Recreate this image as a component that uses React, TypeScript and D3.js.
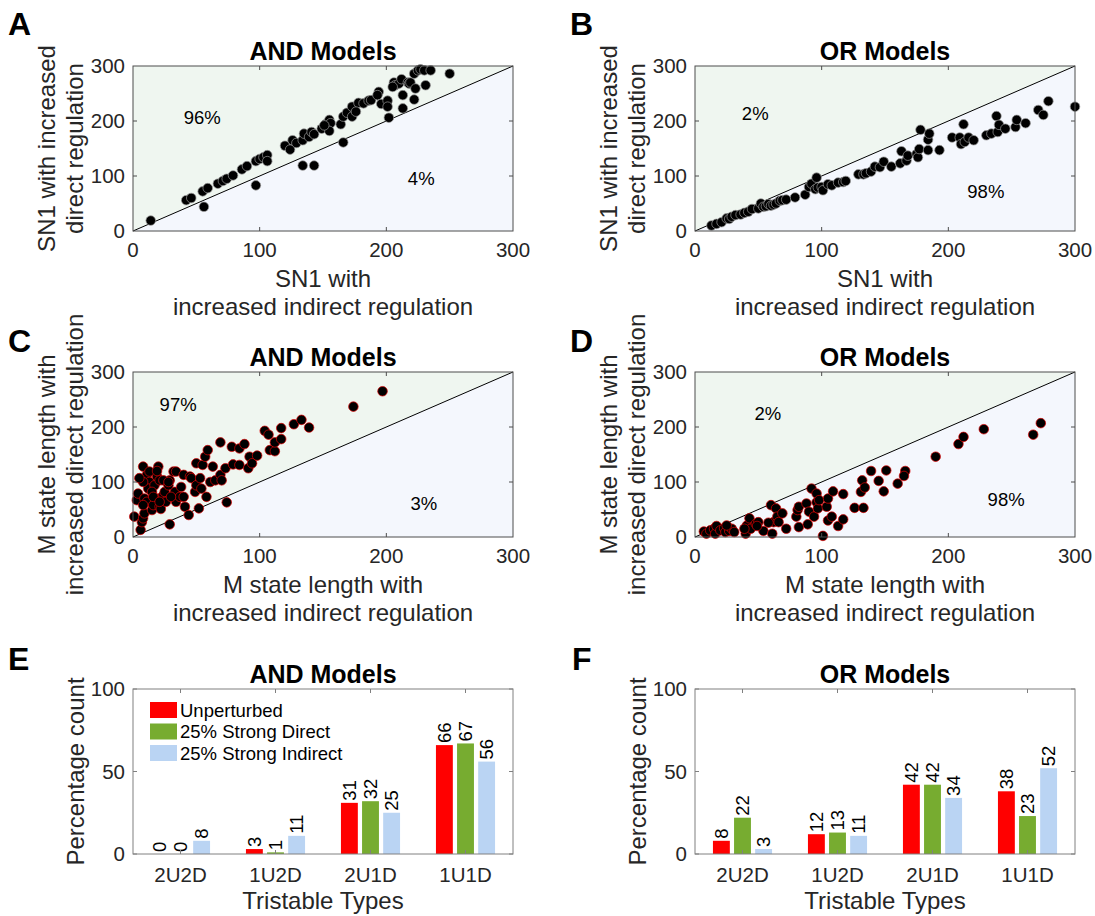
import React from "react";
import * as d3 from "d3";

// ---- data ----
// scatter points: [indirect, direct]
const andSn1 = [
  [14, 19], [42, 56], [46, 60], [56, 44], [55, 72], [59, 78], [67, 86], [71, 91], [74, 95], [79, 101],
  [86, 112], [90, 118], [97, 83], [97, 127], [100, 131], [103, 134], [106, 138], [106, 127], [120, 155],
  [124, 148], [126, 165], [129, 160], [134, 165], [135, 177], [139, 171], [141, 180], [143, 176], [134, 119],
  [143, 119], [149, 186], [152, 194], [155, 202], [156, 196], [155, 182], [151, 192], [164, 194], [166, 208],
  [169, 215], [173, 226], [173, 208], [178, 233], [176, 217], [182, 232], [186, 237], [188, 238], [166, 161],
  [194, 253], [193, 247], [196, 231], [201, 237], [201, 226], [202, 206], [206, 270], [207, 265], [210, 268],
  [212, 276], [205, 262], [217, 270], [218, 268], [219, 270], [223, 259], [222, 286], [225, 292], [227, 294],
  [230, 292], [235, 292], [213, 247], [213, 223], [222, 239], [231, 265], [250, 286],
];
const orSn1 = [
  [13, 10], [17, 13], [21, 16], [25, 23], [27, 22], [29, 26], [32, 29], [36, 30], [39, 33], [42, 35],
  [45, 40], [50, 41], [52, 50], [54, 44], [56, 45], [58, 49], [60, 46], [62, 48], [64, 50], [67, 55],
  [69, 56], [72, 57], [79, 61], [87, 66], [90, 80], [92, 86], [95, 76], [96, 97], [97, 79], [100, 80],
  [101, 74], [105, 85], [108, 83], [113, 88], [117, 89], [119, 91], [129, 103], [133, 103], [135, 105],
  [139, 108], [142, 117], [146, 116], [149, 126], [155, 117], [162, 123], [163, 145], [167, 128], [168, 137],
  [175, 140], [176, 134], [177, 149], [178, 184], [184, 166], [185, 177], [184, 147], [193, 147], [203, 170],
  [209, 170], [212, 194], [210, 158], [213, 162], [216, 170], [220, 165], [230, 174], [234, 177], [238, 209],
  [239, 180], [240, 193], [245, 186], [253, 189], [254, 202], [261, 196], [271, 220], [275, 211], [279, 236],
  [300, 226],
];
const andMState = [
  [6, 13], [1, 37], [7, 27], [8, 34], [9, 43], [3, 67], [4, 79], [9, 70], [11, 64], [15, 49], [16, 58],
  [21, 55], [22, 51], [20, 70], [24, 76], [25, 82], [26, 64], [29, 103], [32, 119], [34, 119], [33, 82],
  [34, 64], [37, 73], [38, 91], [40, 113], [41, 55], [44, 40], [45, 110], [46, 107], [49, 82], [50, 94],
  [52, 52], [50, 134], [53, 107], [54, 88], [55, 131], [57, 146], [58, 73], [59, 158], [61, 100], [63, 128],
  [65, 103], [69, 113], [70, 103], [69, 172], [73, 125], [74, 63], [78, 164], [79, 132], [84, 131],
  [84, 161], [88, 169], [91, 125], [92, 146], [94, 134], [98, 148], [104, 193], [107, 186], [108, 158],
  [112, 156], [112, 172], [117, 178], [117, 198], [127, 205], [133, 213], [139, 199], [174, 237], [197, 265],
  [29, 23], [8, 128], [11, 113], [13, 100], [12, 88], [17, 94], [19, 110], [20, 128], [21, 103], [15, 82],
  [8, 100], [5, 107], [13, 119], [19, 120], [24, 103], [28, 94], [8, 58], [16, 73], [21, 64], [40, 73],
  [28, 100], [30, 73],
];
const orMState = [
  [7, 10], [9, 6], [12, 12], [15, 15], [16, 6], [17, 20], [20, 12], [23, 16], [24, 9], [27, 11], [29, 15],
  [31, 9], [40, 6], [41, 21], [43, 34], [44, 15], [48, 24], [50, 27], [54, 11], [60, 58], [61, 6], [62, 27],
  [64, 52], [65, 37], [66, 27], [69, 43], [72, 15], [80, 37], [81, 49], [82, 55], [82, 18], [88, 61],
  [89, 23], [90, 46], [92, 88], [94, 37], [96, 79], [96, 63], [97, 52], [98, 67], [101, 2], [104, 55],
  [105, 70], [105, 30], [108, 37], [109, 83], [113, 20], [117, 32], [117, 78], [126, 53], [131, 82],
  [132, 103], [133, 53], [134, 90], [139, 120], [145, 102], [149, 83], [151, 121], [160, 97], [166, 120],
  [165, 111], [190, 146], [208, 169], [212, 182], [228, 196], [267, 186], [273, 207], [58, 26], [49, 20],
  [25, 21], [39, 15],
];

const categories = ["2U2D", "1U2D", "2U1D", "1U1D"];
const seriesNames = ["Unperturbed", "25% Strong Direct", "25% Strong Indirect"];
const seriesColors = ["#ff0000", "#77ac30", "#bad4f3"];
const andUnperturbed = [0, 3, 31, 66];
const andDirect = [0, 1, 32, 67];
const andIndirect = [8, 11, 25, 56];
const orUnperturbed = [8, 12, 42, 38];
const orDirect = [22, 13, 42, 23];
const orIndirect = [3, 11, 34, 52];

const scatterTicks = [0, 100, 200, 300];
const barTicks = [0, 50, 100];

const FONT = "'Liberation Sans', Arial, Helvetica, sans-serif";
const TXT = "#262626";
const W = 380, H = 165, TL = 4;

function Letter({ x, y, t }) {
  return <text x={x} y={y} fontSize={32} fontWeight="bold" fill="#000">{t}</text>;
}

function ScatterPanel({ left, top, data, title, xLabel, yLabel, above, below, dotStroke }) {
  const x = d3.scaleLinear().domain([0, 300]).range([left, left + W]);
  const y = d3.scaleLinear().domain([0, 300]).range([top + H, top]);
  const bottom = top + H;
  const cx = left + W / 2, cy = top + H / 2;
  const tri = (pts) => d3.line()(pts.map((p) => [x(p[0]), y(p[1])])) + "Z";
  return (
    <g>
      <path d={tri([[0, 0], [0, 300], [300, 300]])} fill="#eff6f0" />
      <path d={tri([[0, 0], [300, 0], [300, 300]])} fill="#f4f7fd" />
      <line x1={x(0)} y1={y(0)} x2={x(300)} y2={y(300)} stroke="#000" strokeWidth={1} />
      {data.map((d, i) => (
        <circle key={i} cx={x(d[0])} cy={y(d[1])} r={4.8} fill="#000" stroke={dotStroke} strokeWidth={0.7} />
      ))}
      <text x={x(above[1])} y={y(above[2])} dy="0.35em" fontSize={18.5} fill="#000">{above[0]}</text>
      <text x={x(below[1])} y={y(below[2])} dy="0.35em" fontSize={18.5} fill="#000">{below[0]}</text>
      <rect x={left} y={top} width={W} height={H} fill="none" stroke="#4d4d4d" strokeWidth={1} />
      {scatterTicks.slice(1, -1).map((t) => (
        <g key={t} stroke="#4d4d4d">
          <line x1={x(t)} x2={x(t)} y1={bottom} y2={bottom - TL} />
          <line x1={x(t)} x2={x(t)} y1={top} y2={top + TL} />
          <line x1={left} x2={left + TL} y1={y(t)} y2={y(t)} />
          <line x1={left + W} x2={left + W - TL} y1={y(t)} y2={y(t)} />
        </g>
      ))}
      {scatterTicks.map((t) => (
        <g key={"l" + t} fontSize={20.5} fill={TXT}>
          <text x={x(t)} y={bottom + 25.5} textAnchor="middle">{t}</text>
          <text x={left - 8} y={y(t) + 7.3} textAnchor="end">{t}</text>
        </g>
      ))}
      <text x={cx} y={top - 6} textAnchor="middle" fontSize={25} fontWeight="bold" fill="#000">{title}</text>
      {xLabel.map((s, i) => (
        <text key={i} x={cx} y={bottom + 56 + i * 27.5} textAnchor="middle" fontSize={24} fill={TXT}>{s}</text>
      ))}
      {yLabel.map((s, i) => (
        <text key={i} transform={`translate(${left - 78 + i * 28},${cy}) rotate(-90)`} textAnchor="middle"
          fontSize={24} fill={TXT}>{s}</text>
      ))}
    </g>
  );
}

function BarPanel({ left, top, series, title, legend }) {
  const bottom = top + H;
  const x = d3.scaleBand().domain(categories).range([left, left + W]);
  const bw = x.bandwidth();
  const sub = d3.scaleBand().domain(seriesNames).range([-bw / 3, bw / 3]).paddingInner(0.2).paddingOuter(0.1);
  const y = d3.scaleLinear().domain([0, 100]).range([bottom, top]);
  const cx = left + W / 2;
  return (
    <g>
      {series.map((vals, s) => vals.map((v, c) => {
        const bx = x(categories[c]) + bw / 2 + sub(seriesNames[s]);
        const mid = bx + sub.bandwidth() / 2;
        return (
          <g key={s + "-" + c}>
            <rect x={bx} y={y(v)} width={sub.bandwidth()} height={y(0) - y(v)} fill={seriesColors[s]} />
            <text transform={`translate(${mid},${y(v) - 2}) rotate(-90)`} dy="0.35em" fontSize={18.5} fill="#000">{v}</text>
          </g>
        );
      }))}
      <rect x={left} y={top} width={W} height={H} fill="none" stroke="#808080" strokeWidth={1} />
      {categories.map((c) => {
        const tx = x(c) + bw / 2;
        return (
          <g key={c}>
            <line x1={tx} x2={tx} y1={bottom} y2={bottom - TL} stroke="#808080" />
            <line x1={tx} x2={tx} y1={top} y2={top + TL} stroke="#808080" />
            <text x={tx} y={bottom + 28} textAnchor="middle" fontSize={20.5} fill={TXT}>{c}</text>
          </g>
        );
      })}
      {barTicks.map((t) => (
        <g key={t}>
          <line x1={left} x2={left + TL} y1={y(t)} y2={y(t)} stroke="#808080" />
          <line x1={left + W} x2={left + W - TL} y1={y(t)} y2={y(t)} stroke="#808080" />
          <text x={left - 8} y={y(t) + 7.3} textAnchor="end" fontSize={20.5} fill={TXT}>{t}</text>
        </g>
      ))}
      <text x={cx} y={top - 6} textAnchor="middle" fontSize={25} fontWeight="bold" fill="#000">{title}</text>
      <text x={cx} y={bottom + 55} textAnchor="middle" fontSize={24} fill={TXT}>Tristable Types</text>
      <text transform={`translate(${left - 49},${(top + bottom) / 2}) rotate(-90)`} textAnchor="middle"
        fontSize={24} fill={TXT}>Percentage count</text>
      {legend && seriesNames.map((n, i) => (
        <g key={n}>
          <rect x={left + 17} y={top + 13 + i * 21.5} width={27} height={16} fill={seriesColors[i]} />
          <text x={left + 47} y={top + 27.5 + i * 21.5} fontSize={18.5} fill="#000">{n}</text>
        </g>
      ))}
    </g>
  );
}

export default function App() {
  const snX = ["SN1 with", "increased indirect regulation"];
  const snY = ["SN1 with increased", "direct regulation"];
  const mX = ["M state length with", "increased indirect regulation"];
  const mY = ["M state length with", "increased direct regulation"];
  return (
    <svg width={1095} height={916} style={{ position: "absolute", left: 0, top: 0, background: "#fff" }}
      fontFamily={FONT}>
      <rect width={1095} height={916} fill="#fff" />
      <Letter x={8} y={35} t="A" />
      <Letter x={570} y={35} t="B" />
      <Letter x={8} y={352} t="C" />
      <Letter x={570} y={352} t="D" />
      <Letter x={8} y={670} t="E" />
      <Letter x={572} y={670} t="F" />
      <ScatterPanel left={133} top={66} data={andSn1} title="AND Models" xLabel={snX} yLabel={snY}
        above={["96%", 40, 206]} below={["4%", 217, 96]} dotStroke="#9a9a9a" />
      <ScatterPanel left={695} top={66} data={orSn1} title="OR Models" xLabel={snX} yLabel={snY}
        above={["2%", 37, 213]} below={["98%", 215, 72]} dotStroke="#9a9a9a" />
      <ScatterPanel left={133} top={372} data={andMState} title="AND Models" xLabel={mX} yLabel={mY}
        above={["97%", 21, 241]} below={["3%", 219, 60]} dotStroke="#e00000" />
      <ScatterPanel left={695} top={372} data={orMState} title="OR Models" xLabel={mX} yLabel={mY}
        above={["2%", 47, 225]} below={["98%", 231, 69]} dotStroke="#e00000" />
      <BarPanel left={133} top={689} series={[andUnperturbed, andDirect, andIndirect]} title="AND Models" legend />
      <BarPanel left={695} top={689} series={[orUnperturbed, orDirect, orIndirect]} title="OR Models" />
    </svg>
  );
}
